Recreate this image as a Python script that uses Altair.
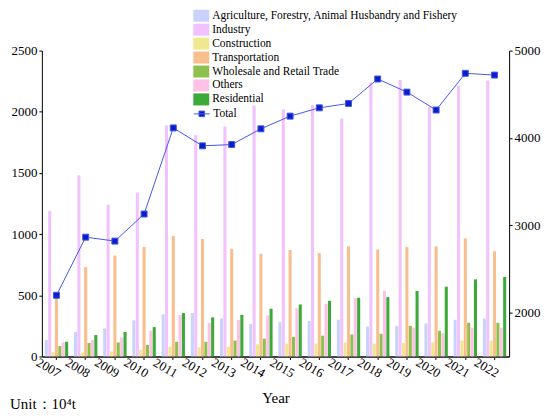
import altair as alt
import pandas as pd

years = [str(y) for y in range(2007, 2023)]
sectors = [
    "Agriculture, Forestry, Animal Husbandry and Fishery",
    "Industry",
    "Construction",
    "Transportation",
    "Wholesale and Retail Trade",
    "Others",
    "Residential",
]
colors = ["#C9D2FC", "#F2C2FE", "#F0E88E", "#F9BE8E", "#8DC04E", "#FEC2E6", "#3BAA38"]

agriculture = [135, 200, 230, 295, 345, 355, 310, 265, 280, 290, 300, 245, 250, 270, 300, 310]
industry = [1190, 1480, 1240, 1340, 1890, 1810, 1880, 2050, 2020, 2055, 1945, 2240, 2260, 2040, 2215, 2255]
construction = [35, 30, 40, 55, 80, 75, 80, 100, 105, 105, 115, 105, 110, 115, 130, 130]
transportation = [480, 730, 825, 895, 985, 960, 880, 840, 870, 845, 900, 875, 895, 900, 965, 860]
wholesale = [85, 110, 115, 95, 120, 120, 130, 145, 160, 170, 180, 185, 250, 210, 275, 275]
others = [115, 135, 155, 210, 340, 275, 300, 335, 395, 430, 475, 535, 235, 190, 235, 235]
residential = [120, 175, 200, 240, 355, 320, 340, 390, 425, 455, 480, 485, 535, 570, 630, 650]
total = [2200, 2865, 2820, 3130, 4115, 3910, 3925, 4105, 4250, 4345, 4395, 4675, 4525, 4320, 4740, 4720]

series = [agriculture, industry, construction, transportation, wholesale, others, residential]
wide = pd.DataFrame({"Year": years, **{s: v for s, v in zip(sectors, series)}})
long = wide.melt(id_vars="Year", var_name="Sector", value_name="Value")
tot = pd.DataFrame({"Year": years, "Total": total, "Series": ["Total"] * len(years)})

W, H = 469, 307
FONT = "Liberation Serif"

xscale = alt.Scale(domain=years, paddingInner=0.2, paddingOuter=0.1)
xaxis = alt.Axis(
    title="Year", labelAngle=30, labelAlign="center", labelBaseline="top",
    labelOffset=-5, labelPadding=3, domainColor="#444444", domainWidth=2,
    tickSize=3, titlePadding=10, titleFontSize=15,
)

bars = alt.Chart(long).mark_bar().encode(
    x=alt.X("Year:N", scale=xscale, axis=xaxis, sort=years),
    xOffset=alt.XOffset("Sector:N", sort=sectors, scale=alt.Scale(domain=sectors, paddingInner=0.1)),
    y=alt.Y("Value:Q", scale=alt.Scale(domain=[0, 2500], nice=False),
            axis=alt.Axis(orient="left", values=[0, 500, 1000, 1500, 2000, 2500],
                          format="d", title=None)),
    fill=alt.Fill("Sector:N", sort=sectors, scale=alt.Scale(domain=sectors, range=colors),
                  legend=alt.Legend(orient="none", legendX=153, legendY=-42, title=None,
                                    symbolType="M-1.14,-0.86H1.14V0.86H-1.14Z", symbolSize=196,
                                    rowPadding=0, labelOffset=4, labelLimit=400, padding=0,
                                    labelFont=FONT, labelFontSize=11.5,
                                    symbolStrokeWidth=0)),
)

yright = alt.Scale(domain=[1500, 5000], nice=False)
line = alt.Chart(tot).mark_line(
    strokeWidth=1,
    point=alt.OverlayMarkDef(shape="square", filled=True, size=36, fill="#0A1EC8",
                             stroke="#3C5CFF", strokeWidth=1, opacity=1),
).encode(
    x=alt.X("Year:N", sort=years),
    y=alt.Y("Total:Q", scale=yright,
            axis=alt.Axis(orient="right", values=[2000, 3000, 4000, 5000],
                          format="d", title=None)),
    stroke=alt.Stroke("Series:N", scale=alt.Scale(domain=["Total"], range=["#4658E8"]),
                      legend=alt.Legend(orient="none", legendX=153, legendY=56, title=None,
                                        symbolType="M-1.14,0H1.14M-0.4,-0.4H0.4V0.4H-0.4Z",
                                        symbolSize=196, symbolFillColor="#0A1EC8",
                                        labelFont=FONT, labelFontSize=11.5,
                                        symbolStrokeWidth=1, labelOffset=4, padding=0)),
)

unit = alt.Chart(pd.DataFrame({"t": ["Unit：10⁴t"]})).mark_text(
    align="left", baseline="alphabetic", font=FONT, fontSize=15, color="black"
).encode(text="t:N", x=alt.value(-32), y=alt.value(H + 53))

chart = alt.layer(bars, line, unit).resolve_scale(
    y="independent"
).properties(
    width=W, height=H, padding={"left": 2, "right": 2, "top": 0, "bottom": 0}
).configure_view(stroke=None).configure_axis(
    labelFont=FONT, labelFontSize=13, labelColor="black", titleFont=FONT,
    titleFontWeight="normal", titleColor="black", domainColor="black",
    tickColor="black", tickSize=3, grid=False, labelPadding=2,
).configure_legend(
    labelFont=FONT, labelFontSize=11.5, labelColor="black",
)

chart.save("out.html", embed_options={"renderer": "svg", "actions": False})
